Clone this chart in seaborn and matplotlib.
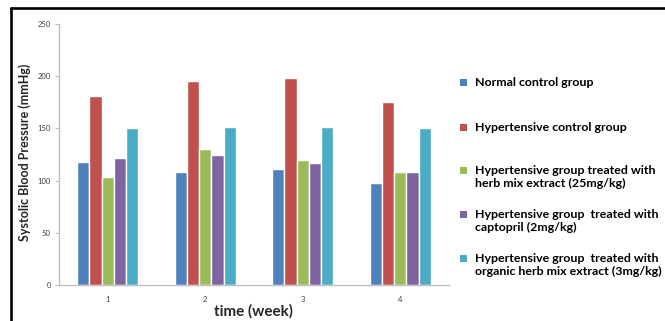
import matplotlib
matplotlib.use("Agg")
import matplotlib.pyplot as plt
from matplotlib.lines import Line2D
from matplotlib.patches import Rectangle
import pandas as pd
import seaborn as sns

# data
weeks = ["1", "2", "3", "4"]
groups = [
    "Normal control group",
    "Hypertensive control group",
    "Hypertensive group treated with\nherb mix extract (25mg/kg)",
    "Hypertensive group  treated with\ncaptopril (2mg/kg)",
    "Hypertensive group  treated with\norganic herb mix extract (3mg/kg)",
]
normal = [118, 108.5, 111.5, 98]
hyper = [181, 195, 198, 175.5]
herb = [103.5, 130, 119.5, 108.5]
captopril = [121.5, 125, 116.5, 108]
organic = [150, 151.5, 151, 150]
colors = ["#4F81BD", "#C0504D", "#9BBB59", "#8064A2", "#4BACC6"]

rows = []
for g, vals in zip(groups, [normal, hyper, herb, captopril, organic]):
    for w, v in zip(weeks, vals):
        rows.append({"week": w, "group": g, "value": v})
df = pd.DataFrame(rows)

sns.set_style("white")
plt.rcParams["font.family"] = ["Lato", "DejaVu Sans"]

fig = plt.figure(figsize=(6.65, 3.21), dpi=100)
ax = fig.add_axes([0.0887, 0.1121, 0.5865, 0.8131])

sns.barplot(data=df, x="week", y="value", hue="group", hue_order=groups,
            palette=colors, saturation=1, width=0.625, gap=0,
            order=weeks, legend=False, ax=ax)

ax.set_ylim(0, 250)
ax.set_xlim(-0.5, 3.5)
ax.set_yticks([0, 50, 100, 150, 200, 250])
ax.tick_params(axis="y", length=3, width=0.8, color="#BFBFBF", labelsize=5.5,
               labelcolor="#404040", pad=3, direction="out", left=True)
ax.tick_params(axis="x", length=0, labelsize=5.5, labelcolor="#404040", pad=8)
for s in ["top", "right"]:
    ax.spines[s].set_visible(False)
for s in ["left", "bottom"]:
    ax.spines[s].set_color("#BFBFBF")
    ax.spines[s].set_linewidth(1)

ax.set_ylabel("Systolic Blood Pressure (mmHg)", fontsize=9, fontweight="bold")
ax.yaxis.label.set_va("center")
ax.yaxis.set_label_coords(-0.088, 0.51)
ax.set_xlabel("time (week)", fontsize=11, fontweight="bold", labelpad=1)

# legend drawn entry by entry, marker next to the first line of each label
W, H = 665.0, 321.0
first_line_y = [82, 127, 170, 214, 258]
for lab, col, yc in zip(groups, colors, first_line_y):
    fig.add_artist(Rectangle(((463 - 3.5) / W, 1 - (yc + 3.5) / H), 7 / W, 7 / H,
                             facecolor=col, edgecolor="none",
                             transform=fig.transFigure))
    fig.text(475 / W, 1 - (yc - 5) / H, lab, fontsize=8.9, fontweight="bold",
             color="black", ha="left", va="top", linespacing=1.25)

# black frame lines (top and left) like the original figure
fig.add_artist(Line2D([0.0165, 1.0], [0.974, 0.974], color="black", lw=1.9,
                      transform=fig.transFigure))
fig.add_artist(Line2D([0.0165, 0.0165], [0.0, 0.974], color="black", lw=1.9,
                      transform=fig.transFigure))

fig.savefig("out.png", dpi=100)
